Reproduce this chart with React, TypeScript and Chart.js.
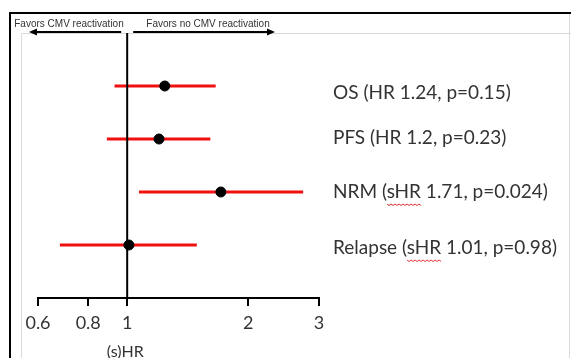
import React, { useEffect, useRef } from "react";
import { Chart, registerables } from "chart.js";

Chart.register(...registerables);

const outcomes = ["OS", "PFS", "NRM", "Relapse"];
const outcomeLabels = [
  "OS (HR 1.24, p=0.15)",
  "PFS (HR 1.2, p=0.23)",
  "NRM (sHR 1.71, p=0.024)",
  "Relapse (sHR 1.01, p=0.98)",
];
const hazardRatios = [1.24, 1.2, 1.71, 1.01];
const ciLow = [0.93, 0.89, 1.07, 0.68];
const ciHigh = [1.66, 1.61, 2.74, 1.49];
const xTicks = [0.6, 0.8, 1, 2, 3];
const axisTitle = "(s)HR";
const leftNote = "Favors CMV reactivation";
const rightNote = "Favors no CMV reactivation";

const LABEL_FONT = "Lato, 'Open Sans', sans-serif";

const decorPlugin = {
  id: "decor",
  beforeDraw(chart: any) {
    const ctx = chart.ctx;
    const W = chart.width;
    const H = chart.height;
    ctx.save();
    ctx.fillStyle = "#ffffff";
    ctx.fillRect(0, 0, W, H);
    ctx.strokeStyle = "#d9d9d9";
    ctx.lineWidth = 1;
    ctx.beginPath();
    ctx.moveTo(21.5, H);
    ctx.lineTo(21.5, 33.5);
    ctx.lineTo(W, 33.5);
    ctx.moveTo(569.5, 14);
    ctx.lineTo(569.5, H);
    ctx.stroke();
    ctx.strokeStyle = "#000";
    ctx.lineWidth = 2;
    ctx.beginPath();
    ctx.moveTo(10, H);
    ctx.lineTo(10, 13);
    ctx.lineTo(W, 13);
    ctx.stroke();
    ctx.restore();
  },
  afterDraw(chart: any) {
    const ctx = chart.ctx;
    const xs = chart.scales.x;
    const ys = chart.scales.y;
    const opts = chart.options.plugins.decor;
    ctx.save();
    ctx.fillStyle = "#333";
    ctx.font = "10px 'Liberation Sans', Arial, sans-serif";
    ctx.textAlign = "center";
    ctx.textBaseline = "middle";
    ctx.fillText(leftNote, 69, 24);
    ctx.fillText(rightNote, 208, 24);
    const x1 = xs.getPixelForValue(1);
    const ay = 32;
    ctx.strokeStyle = "#000";
    ctx.fillStyle = "#000";
    ctx.lineWidth = 2;
    ctx.beginPath();
    ctx.moveTo(x1 - 6, ay);
    ctx.lineTo(34, ay);
    ctx.moveTo(x1 + 6, ay);
    ctx.lineTo(269, ay);
    ctx.stroke();
    ctx.beginPath();
    ctx.moveTo(29, ay);
    ctx.lineTo(37, ay - 3.5);
    ctx.lineTo(37, ay + 3.5);
    ctx.closePath();
    ctx.fill();
    ctx.beginPath();
    ctx.moveTo(275, ay);
    ctx.lineTo(267, ay - 3.5);
    ctx.lineTo(267, ay + 3.5);
    ctx.closePath();
    ctx.fill();

    ctx.font = `19px ${LABEL_FONT}`;
    ctx.textAlign = "left";
    ctx.textBaseline = "middle";
    ctx.fillStyle = "#333";
    outcomeLabels.forEach((lab, i) => {
      const y = ys.getPixelForValue(i + 1) + opts.labelDy[i];
      const lx = opts.labelX;
      ctx.fillText(lab, lx, y);
      const k = lab.indexOf("sHR");
      if (k >= 0) {
        const pre = ctx.measureText(lab.slice(0, k)).width;
        const w = ctx.measureText("sHR").width;
        ctx.save();
        ctx.strokeStyle = "#e03030";
        ctx.lineWidth = 1;
        ctx.beginPath();
        const uy = y + 12;
        for (let px = 0; px <= w; px += 2) {
          const yy = uy + ((px / 2) % 2 === 0 ? 0 : 1.5);
          if (px === 0) ctx.moveTo(lx + pre + px, yy);
          else ctx.lineTo(lx + pre + px, yy);
        }
        ctx.stroke();
        ctx.restore();
      }
    });

    ctx.font = `16px ${LABEL_FONT}`;
    ctx.textAlign = "center";
    ctx.fillText(axisTitle, x1 - 2, 352);
    ctx.restore();
  },
};

export default function App() {
  const ref = useRef<HTMLCanvasElement | null>(null);
  useEffect(() => {
    if (!ref.current) return;
    const ciSets = outcomes.map((o, i) => ({
      type: "line" as const,
      label: o + " CI",
      data: [
        { x: ciLow[i], y: i + 1 },
        { x: ciHigh[i], y: i + 1 },
      ],
      borderColor: "#f01010",
      borderWidth: 3,
      pointRadius: 0,
      order: 3,
    }));
    const chart = new Chart(ref.current, {
      type: "scatter",
      data: {
        datasets: [
          ...ciSets,
          {
            type: "line" as const,
            label: "ref",
            data: [
              { x: 1, y: 0 },
              { x: 1, y: 5 },
            ],
            borderColor: "#000",
            borderWidth: 2,
            pointRadius: 0,
            order: 2,
          },
          {
            label: "HR",
            data: hazardRatios.map((v, i) => ({ x: v, y: i + 1 })),
            backgroundColor: "#000",
            borderColor: "#000",
            pointRadius: 5,
            order: 1,
          },
        ] as any,
      },
      options: {
        animation: false,
        responsive: true,
        maintainAspectRatio: false,
        layout: { padding: { left: 38, right: 252, top: 33, bottom: 0 } },
        plugins: {
          legend: { display: false },
          tooltip: { enabled: false },
          decor: { labelX: 333, labelDy: [7, -1, 0, 3] },
        } as any,
        scales: {
          x: {
            type: "logarithmic",
            min: 0.6,
            max: 3,
            afterBuildTicks: (s: any) => {
              s.ticks = xTicks.map((v) => ({ value: v }));
            },
            afterFit: (s: any) => {
              s.height = 60;
            },
            ticks: {
              autoSkip: false,
              maxRotation: 0,
              padding: 6,
              color: "#333",
              font: { size: 18, family: LABEL_FONT },
              callback: (v: any) => String(v),
            },
            grid: {
              drawOnChartArea: false,
              drawTicks: true,
              tickLength: 8,
              color: "#000",
              lineWidth: 2,
            },
            border: { display: true, color: "#000", width: 2 },
          },
          y: {
            type: "linear",
            min: 0,
            max: 5,
            reverse: true,
            display: false,
          },
        },
      },
      plugins: [decorPlugin],
    });
    return () => chart.destroy();
  }, []);
  return (
    <div style={{ position: "fixed", left: 0, top: 0, width: 571, height: 358, background: "#fff" }}>
      <canvas ref={ref} />
    </div>
  );
}
